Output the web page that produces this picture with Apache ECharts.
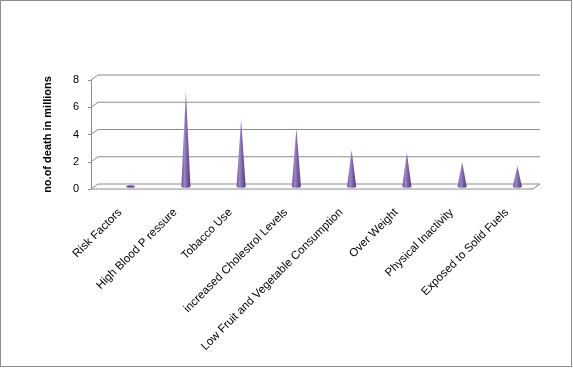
<!DOCTYPE html>
<html><head><meta charset="utf-8">
<script src="https://cdn.jsdelivr.net/npm/echarts@6/dist/echarts.min.js"></script>
<style>
html,body{margin:0;padding:0;background:#fff;}
#wrap{position:absolute;left:0;top:0;width:572px;height:367px;box-sizing:border-box;border:1px solid #8c8c8c;}
#c{position:absolute;left:0;top:0;width:573px;height:368px;}
</style></head>
<body><div id="c"></div><div id="wrap"></div>
<script>
const categories = ["Risk Factors","High Blood P ressure","Tobacco Use","increased Cholestrol Levels","Low Fruit and Vegetable Consumption","Over Weight","Physical Inactivity","Exposed to Solid Fuels"];
const deaths = [0, 7.0, 4.9, 4.3, 2.7, 2.5, 1.8, 1.5];
const yTicks = [0, 2, 4, 6, 8];
const yName = "no.of death in millions";

const chart = echarts.init(document.getElementById('c'), null, {renderer:'canvas'});
const gridCol = '#8c8c8c';
const DX = 7, DY = -5; // depth offset of back wall relative to front

chart.setOption({
  animation:false,
  backgroundColor:'#fff',
  grid:{left:103,right:28,top:80,bottom:179},
  xAxis:{type:'category',data:categories,
    axisLine:{show:false},axisTick:{show:false},splitLine:{show:false},
    axisLabel:{interval:0,rotate:45,fontFamily:'Liberation Sans',fontSize:11.5,color:'#000',margin:11,padding:[0,15,0,0]}},
  yAxis:{type:'value',min:0,max:8,interval:2,offset:12,
    name:yName,nameLocation:'middle',nameRotate:90,nameGap:38,
    nameTextStyle:{fontFamily:'Liberation Sans',fontSize:11,fontWeight:'bold',color:'#000'},
    axisLine:{show:true,lineStyle:{color:gridCol,width:1}},
    axisTick:{show:true,length:3,lineStyle:{color:gridCol}},
    splitLine:{show:false},
    axisLabel:{fontFamily:'Liberation Sans',fontSize:11,color:'#000',margin:12}},
  series:[
    {type:'custom',z:1,silent:true,
     data:yTicks.map(v=>[0,v]),
     encode:{x:0,y:1},
     renderItem:function(params,api){
       const cs=params.coordSys;
       const v=api.value(1);
       const y=api.coord([0,v])[1];
       const fl=cs.x-12, br=cs.x+cs.width-5;
       const children=[{type:'polyline',shape:{points:[[fl,y],[fl+DX,y+DY],[br,y+DY]]},
         style:{stroke:gridCol,lineWidth:1,fill:null}}];
       if(v===0){
         children.push({type:'polyline',shape:{points:[[fl,y],[br-DX,y],[br,y+DY]]},
           style:{stroke:gridCol,lineWidth:1,fill:null}});
       }
       return {type:'group',children:children};
     }},
    {type:'custom',z:3,silent:true,
     data:deaths.map((v,i)=>[i,v]),
     encode:{x:0,y:1},
     renderItem:function(params,api){
       const i=api.value(0), v=api.value(1);
       const b=api.coord([i,0]), t=api.coord([i,v]);
       const cx=b[0], by=b[1]-2.5, ty=t[1]-2.5;
       const w=api.size([1,0])[0]*0.165;
       const grad=new echarts.graphic.LinearGradient(0,0,1,0,[
         {offset:0,color:'#6b529a'},{offset:0.35,color:'#9c86c6'},
         {offset:0.6,color:'#7e62a4'},{offset:1,color:'#533c7a'}]);
       const children=[{type:'ellipse',shape:{cx:cx,cy:by,rx:w/2,ry:1.3},style:{fill:v>0?grad:'#6a5394'}}];
       if(v>0){
         children.push({type:'polygon',shape:{points:[[cx-w/2,by],[cx,ty],[cx+w/2,by]]},style:{fill:grad}});
       }
       return {type:'group',children:children};
     }}
  ]
});
</script></body></html>
